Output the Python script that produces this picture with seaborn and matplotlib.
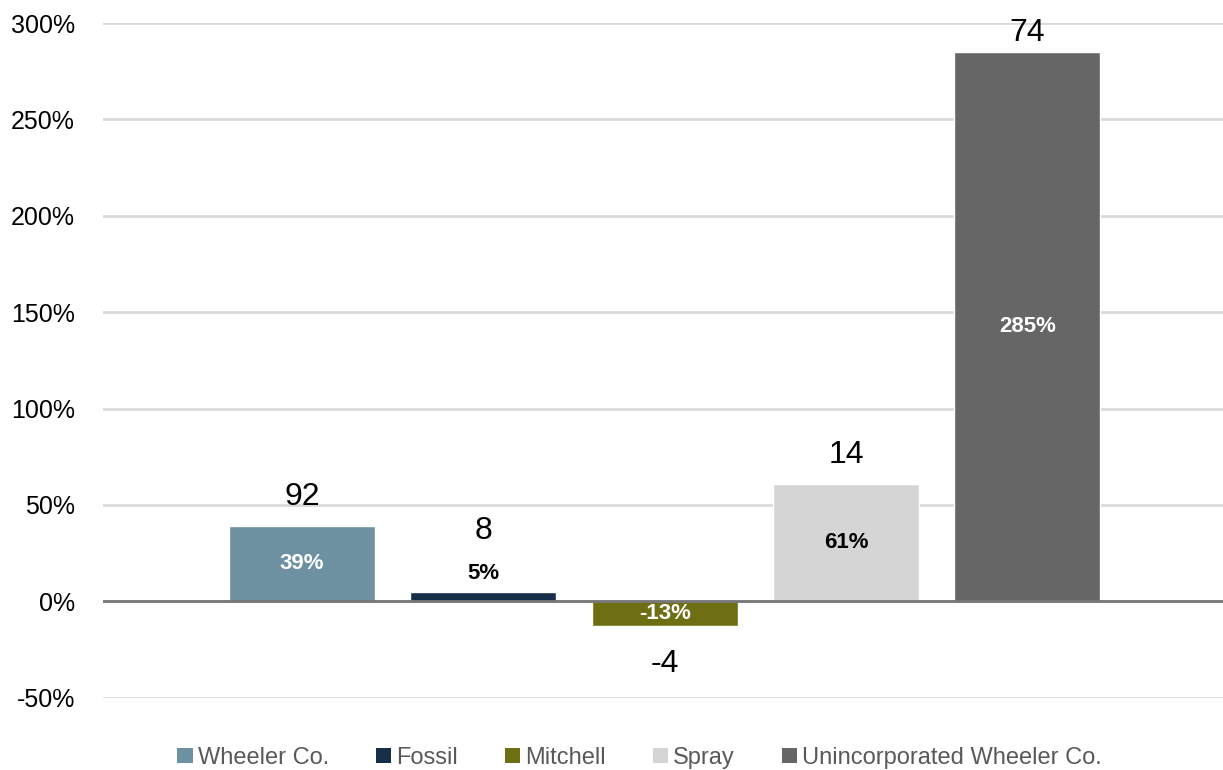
import matplotlib
matplotlib.use("Agg")
import matplotlib.pyplot as plt
from matplotlib.patches import Patch
from matplotlib.ticker import FuncFormatter, MultipleLocator
import seaborn as sns
import pandas as pd

# Percent change by area, with the underlying count change
areas = ["Wheeler Co.", "Fossil", "Mitchell", "Spray", "Unincorporated Wheeler Co."]
pct_change = [39, 5, -13, 61, 285]
count_change = [92, 8, -4, 14, 74]
colors = ["#6E91A2", "#162E48", "#6E6E12", "#D4D5D4", "#666666"]
inner_text_colors = ["white", "black", "white", "black", "white"]

df = pd.DataFrame({"area": areas, "pct": pct_change, "count": count_change})

sns.set_theme(style="white")
plt.rcParams["font.family"] = ["Liberation Sans", "DejaVu Sans"]

fig, ax = plt.subplots(figsize=(12.23, 7.70), dpi=100)
fig.subplots_adjust(left=0.084, right=1.0, top=0.97, bottom=0.094)

sns.barplot(data=df, x="area", y="pct", hue="area", palette=colors,
            order=areas, hue_order=areas, dodge=False, legend=False,
            width=0.805, saturation=1, ax=ax)

ax.set_ylim(-50, 300)
ax.set_xlim(-1.1, 5.08)
ax.yaxis.set_major_locator(MultipleLocator(50))
ax.yaxis.set_major_formatter(FuncFormatter(lambda v, _: f"{v:.0f}%"))
ax.tick_params(axis="y", labelsize=18, colors="black", length=0, pad=20)
ax.set_xticks([])
ax.set_xlabel("")
ax.set_ylabel("")
for s in ax.spines.values():
    s.set_visible(False)
ax.grid(axis="y", color="#D9D9D9", linewidth=2)
ax.set_axisbelow(True)
ax.axhline(0, color="#767676", linewidth=2, zorder=3)

for i, (p, c) in enumerate(zip(pct_change, count_change)):
    # percent label inside the bar (or just above a thin bar)
    if abs(p) < 10 and p > 0:
        ax.annotate(f"{p}%", (i, p), xytext=(0, 13), textcoords="offset points",
                    ha="center", va="center", fontsize=16, fontweight="semibold",
                    color=inner_text_colors[i])
        ax.annotate(f"{c}", (i, p), xytext=(0, 44), textcoords="offset points",
                    ha="center", va="center", fontsize=23, color="black")
    else:
        ax.text(i, p / 2, f"{p}%", ha="center", va="center", fontsize=16,
                fontweight="semibold", color=inner_text_colors[i])
        off = 21 if p > 0 else -27
        if p > 200:
            off = 14
        ax.annotate(f"{c}", (i, p), xytext=(0, off), textcoords="offset points",
                    ha="center", va="center", fontsize=23, color="black")

handles = [Patch(facecolor=col, edgecolor="none", label=a) for a, col in zip(areas, colors)]
leg = fig.legend(handles=handles, loc="lower center", ncol=5, frameon=False,
                 bbox_to_anchor=(0.523, -0.026), fontsize=17, handlelength=0.65,
                 handleheight=0.65, handletextpad=0.2, columnspacing=2.0)
for t in leg.get_texts():
    t.set_color("#595959")

fig.savefig("out.png", dpi=100)
